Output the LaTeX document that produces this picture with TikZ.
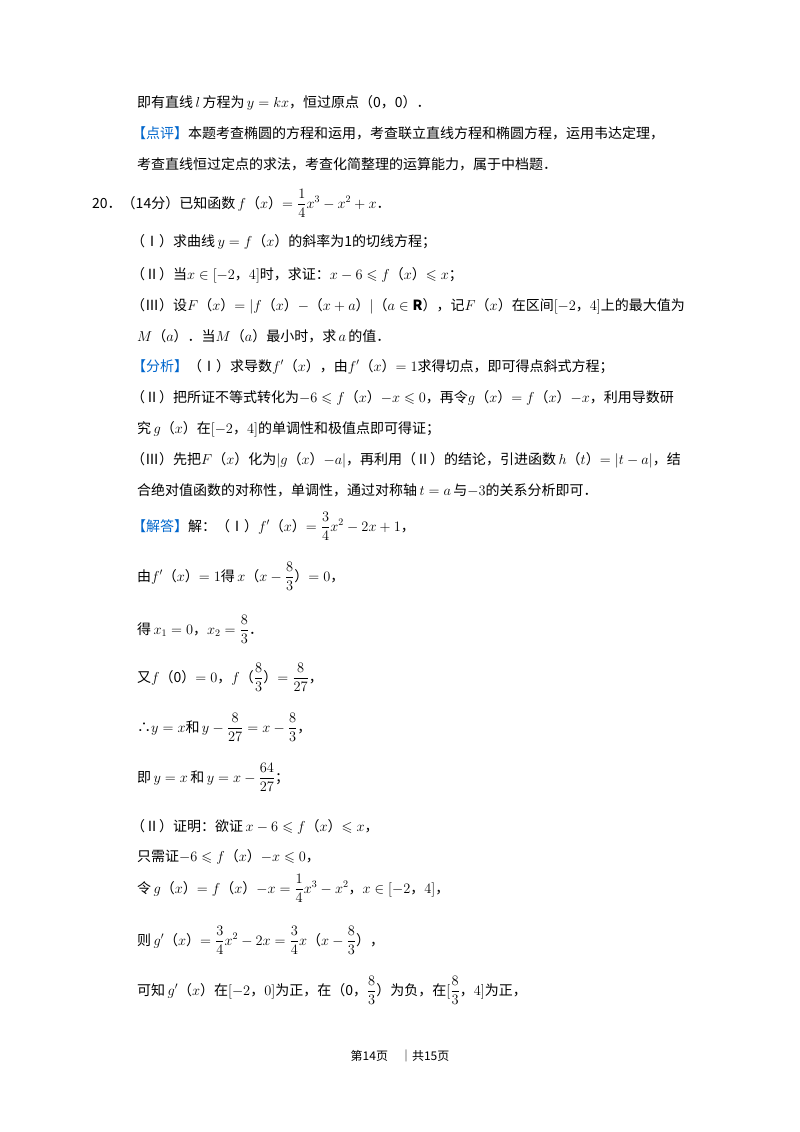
\documentclass[tikz,border=0pt]{standalone}
\usepackage{amsmath,amssymb}
\usepackage{fontspec}
\setmainfont{Noto Sans CJK SC}
\definecolor{tagblue}{RGB}{0,102,204}
\begin{document}
\begin{tikzpicture}[x=1pt,y=-1pt,
  ln/.style={anchor=base west,inner sep=0pt,font=\fontsize{14}{16}\selectfont}]
\useasboundingbox (0,0) rectangle (800,1132);
\newcommand{\tg}[1]{\textcolor{tagblue}{【#1】}}
\node[ln] (l1) at (137,107) {即有直线$\,l\,$方程为$\,y=kx$，恒过原点（0，0）．};
\node[ln] (l2) at (132,138) {\tg{点评}本题考查椭圆的方程和运用，考查联立直线方程和椭圆方程，运用韦达定理，};
\node[ln] (l3) at (137,169) {考查直线恒过定点的求法，考查化简整理的运算能力，属于中档题．};
\node[ln] (l4) at (92,208) {20．（14分）已知函数$\,f$（$x$）$=\dfrac{1}{4}x^3-x^2+x$．};
\node[ln] (l5) at (131,246) {（Ⅰ）求曲线$\,y=f$（$x$）的斜率为1的切线方程；};
\node[ln] (l6) at (131,279) {（Ⅱ）当$x\in[-2$，$4]$时，求证：$x-6\leqslant f$（$x$）$\leqslant x$；};
\node[ln] (l7) at (131,310) {（Ⅲ）设$F$（$x$）$=|f$（$x$）$-$（$x+a$）$|$（$a\in\mathbf{R}$），记$F$（$x$）在区间$[-2$，$4]$上的最大值为};
\node[ln] (l8) at (137,341) {$M$（$a$）．当$M$（$a$）最小时，求$\,a\,$的值．};
\node[ln] (l9) at (132,371) {\tg{分析}（Ⅰ）求导数$f'$（$x$），由$f'$（$x$）$=1$求得切点，即可得点斜式方程；};
\node[ln] (l10) at (131,402) {（Ⅱ）把所证不等式转化为$-6\leqslant f$（$x$）$-x\leqslant0$，再令$g$（$x$）$=f$（$x$）$-x$，利用导数研};
\node[ln] (l11) at (137,433) {究$\,g$（$x$）在$[-2$，$4]$的单调性和极值点即可得证；};
\node[ln] (l12) at (131,464) {（Ⅲ）先把$F$（$x$）化为$|g$（$x$）$-a|$，再利用（Ⅱ）的结论，引进函数$\,h$（$t$）$=|t-a|$，结};
\node[ln] (l13) at (137,495) {合绝对值函数的对称性，单调性，通过对称轴$\,t=a\,$与$-3$的关系分析即可．};
\node[ln] (l14) at (132,531) {\tg{解答}解：（Ⅰ）$f'$（$x$）$=\dfrac{3}{4}x^2-2x+1$，};
\node[ln] (l15) at (137,581) {由$f'$（$x$）$=1$得$\,x$（$x-\dfrac{8}{3}$）$=0$，};
\node[ln] (l16) at (137,634) {得$\,x_1=0$，$x_2=\dfrac{8}{3}$．};
\node[ln] (l17) at (137,682) {又$f$（0）$=0$，$f$（$\dfrac{8}{3}$）$=\dfrac{8}{27}$，};
\node[ln] (l18) at (137,732) {∴$y=x$和$\,y-\dfrac{8}{27}=x-\dfrac{8}{3}$，};
\node[ln] (l19) at (137,782) {即$\,y=x\,$和$\,y=x-\dfrac{64}{27}$；};
\node[ln] (l20) at (131,831) {（Ⅱ）证明：欲证$\,x-6\leqslant f$（$x$）$\leqslant x$，};
\node[ln] (l21) at (137,861) {只需证$-6\leqslant f$（$x$）$-x\leqslant0$，};
\node[ln] (l22) at (137,893) {令$\,g$（$x$）$=f$（$x$）$-x=\dfrac{1}{4}x^3-x^2$，$x\in[-2$，$4]$，};
\node[ln] (l23) at (137,945) {则$\,g'$（$x$）$=\dfrac{3}{4}x^2-2x=\dfrac{3}{4}x$（$x-\dfrac{8}{3}$），};
\node[ln] (l24) at (137,995) {可知$\,g'$（$x$）在$[-2$，$0]$为正，在（0，$\dfrac{8}{3}$）为负，在$[\dfrac{8}{3}$，$4]$为正，};
\node[anchor=base,inner sep=0pt,font=\fontsize{12}{14}\selectfont] (ft) at (400,1060) {第14页　｜共15页};
\end{tikzpicture}
\end{document}
